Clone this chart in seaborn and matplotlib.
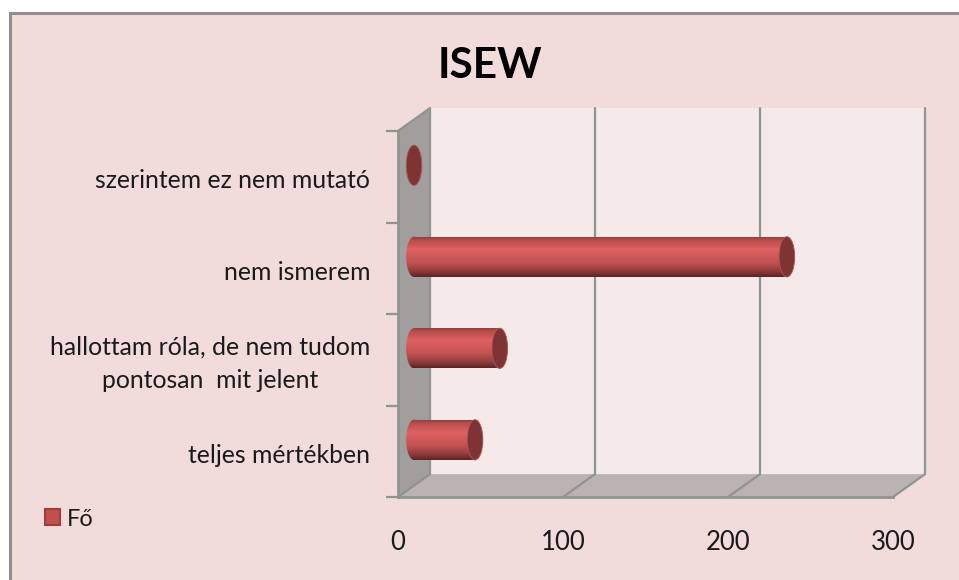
import numpy as np
import pandas as pd
import matplotlib
matplotlib.use("Agg")
import matplotlib.pyplot as plt
import seaborn as sns
from matplotlib.colors import LinearSegmentedColormap
from matplotlib.patches import Ellipse, Patch, Polygon, Rectangle
from matplotlib.transforms import ScaledTranslation

# adatok
categories = ["szerintem ez nem mutató", "nem ismerem",
              "hallottam róla, de nem tudom\npontosan  mit jelent", "teljes mértékben"]
values = [0, 226, 52, 37]
x_ticks = [0, 100, 200, 300]
series_name = "Fő"
title = "ISEW"

df = pd.DataFrame({"cat": categories, "fo": values})

sns.set_theme(style="white")
plt.rcParams["font.family"] = ["Lato", "DejaVu Sans"]

BG = "#F2DCDB"
WALL = "#F5E9E9"
SIDE = "#A29E9E"
FLOOR = "#BBB3B3"
LINE = "#8F9490"
TEXT = "#1a1a1a"
CAP = "#7F3333"

# a 3D doboz mélysége adategységben
DEPTH_X = 19.4
DEPTH_Y = 0.25
BAR_H = 0.44
CAP_W = 9.5

fig = plt.figure(figsize=(9.59, 5.8), dpi=100, facecolor="white")
fig.add_artist(Rectangle((9.5 / 959, -0.02), 1.0, (580 - 12.5) / 580 + 0.02, transform=fig.transFigure,
                         facecolor=BG, edgecolor="#8f8f8f", linewidth=2.2, zorder=-1))

ax = fig.add_axes([398 / 959, (580 - 497) / 580, 495 / 959, 366 / 580])
ax.patch.set_visible(False)

sns.barplot(data=df, y="cat", x="fo", order=categories, color="#C0504D",
            width=BAR_H, ax=ax, zorder=5)
ax.set_xlim(0, 300)
ax.set_ylim(3.5, -0.5)

x0, x1 = ax.get_xlim()
yb, yt = ax.get_ylim()
bars = list(ax.patches)

# hátfal, oldalfal, padló
ax.add_patch(Polygon([(x0 + DEPTH_X, yb - DEPTH_Y), (x1 + DEPTH_X, yb - DEPTH_Y),
                      (x1 + DEPTH_X, yt - DEPTH_Y), (x0 + DEPTH_X, yt - DEPTH_Y)],
                     facecolor=WALL, edgecolor="none", clip_on=False, zorder=1))
ax.add_patch(Polygon([(x0, yb), (x0 + DEPTH_X, yb - DEPTH_Y), (x0 + DEPTH_X, yt - DEPTH_Y), (x0, yt)],
                     facecolor=SIDE, edgecolor="none", clip_on=False, zorder=1))
ax.add_patch(Polygon([(x0, yb), (x1, yb), (x1 + DEPTH_X, yb - DEPTH_Y), (x0 + DEPTH_X, yb - DEPTH_Y)],
                     facecolor=FLOOR, edgecolor="none", clip_on=False, zorder=1))

# rácsvonalak
for v in x_ticks:
    ax.plot([v, v + DEPTH_X, v + DEPTH_X], [yb, yb - DEPTH_Y, yt - DEPTH_Y], color=LINE, lw=1.6,
            clip_on=False, zorder=2, solid_joinstyle="miter")
ax.plot([x0, x0 + DEPTH_X], [yt, yt - DEPTH_Y], color=LINE, lw=1.6, clip_on=False, zorder=2)

# henger színátmenet
cyl = LinearSegmentedColormap.from_list("cyl", [(0, "#8A3B3B"), (0.1, "#B84E4E"), (0.32, "#DF6161"),
                                                (0.65, "#C25252"), (0.87, "#8E3A3A"), (1, "#5E2424")])
grad = np.linspace(0, 1, 64).reshape(-1, 1)

for bar in bars:
    w = bar.get_width()
    cy = bar.get_y() + bar.get_height() / 2 - DEPTH_Y / 2
    cx0 = DEPTH_X / 2
    bar.set_visible(False)
    if w > 0:
        body = Rectangle((cx0, cy - BAR_H / 2), w, BAR_H, facecolor="none", edgecolor="none")
        head = Ellipse((cx0, cy), CAP_W, BAR_H, facecolor="none", edgecolor="none")
        for clip in (body, head):
            ax.add_patch(clip)
            im = ax.imshow(grad, cmap=cyl, aspect="auto", origin="upper", zorder=5,
                           extent=(cx0 - CAP_W, cx0 + w, cy + BAR_H / 2, cy - BAR_H / 2))
            im.set_clip_path(clip)
    ax.add_patch(Ellipse((cx0 + w, cy), CAP_W, BAR_H, facecolor=CAP, edgecolor="#A85A5A", lw=0.6,
                         clip_on=False, zorder=6))
ax.set_xlim(0, 300)
ax.set_ylim(3.5, -0.5)

# tengelyek
sns.despine(ax=ax)
for side in ("left", "bottom"):
    ax.spines[side].set_color(LINE)
    ax.spines[side].set_linewidth(2)
    ax.spines[side].set_zorder(3)
ax.set_xlabel("")
ax.set_ylabel("")
ax.set_xticks(x_ticks)
ax.tick_params(axis="x", length=9, width=1.6, color=LINE, labelsize=18.5, labelcolor=TEXT, pad=15)
ax.set_yticks(range(len(categories)))
ax.set_yticklabels(categories, multialignment="center", fontsize=17.8, color=TEXT, linespacing=1.55)
ax.set_yticks(np.arange(-0.5, 4), minor=True)
ax.tick_params(axis="y", which="major", length=0, pad=20)
ax.tick_params(axis="y", which="minor", length=9, width=1.6, color=LINE, left=True)
for lab in ax.get_yticklabels():
    # a kétsoros felirat feljebb van
    shift = 2.2 if "\n" in lab.get_text() else -1.3
    lab.set_transform(lab.get_transform() + ScaledTranslation(0, shift / 72, fig.dpi_scale_trans))

fig.text(489.5 / 959, 1 - 66 / 580, title, fontsize=30.5, fontweight="bold", ha="center", va="center", color="black")

ax.legend(handles=[Patch(facecolor="#C0504D", edgecolor="#A03C3C", linewidth=1.5, label=series_name)],
          loc="center left", bbox_to_anchor=(45 / 959, 1 - 519 / 580), bbox_transform=fig.transFigure,
          frameon=False, fontsize=17, labelcolor=TEXT, handlelength=0.64, handleheight=0.64,
          handletextpad=0.3, borderpad=0, borderaxespad=0)

plt.savefig("out.png", dpi=100)
